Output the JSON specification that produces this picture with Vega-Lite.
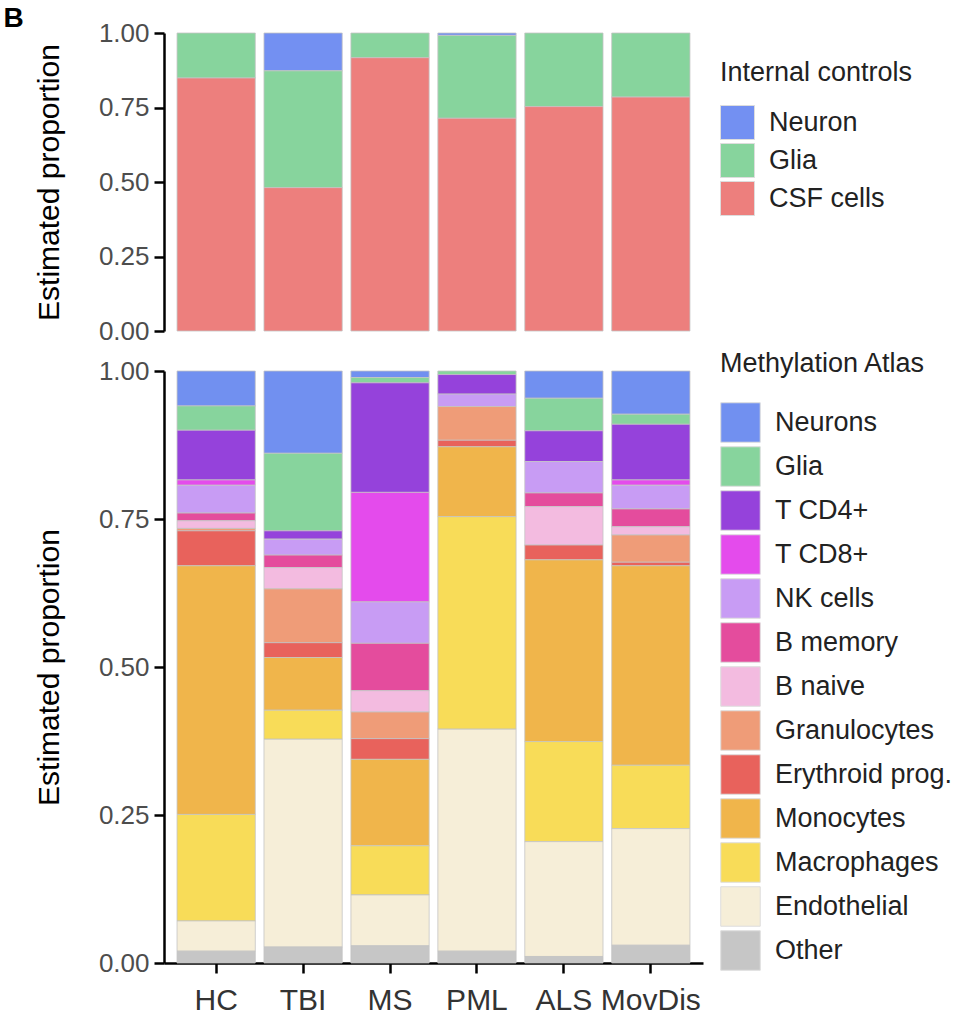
{
  "$schema": "https://vega.github.io/schema/vega-lite/v6.json",
  "background": "white",
  "padding": {"left": 3, "top": 5, "right": 0, "bottom": 0},
  "title": {
    "text": "B",
    "anchor": "start",
    "frame": "bounds",
    "font": "Liberation Sans",
    "fontSize": 28,
    "fontWeight": "bold",
    "color": "black",
    "dx": -31,
    "offset": -13
  },
  "config": {
    "font": "Liberation Sans",
    "view": {"stroke": null},
    "axis": {
      "grid": false,
      "domainColor": "black",
      "domainWidth": 2.5,
      "tickColor": "black",
      "tickWidth": 2.5,
      "tickSize": 10,
      "labelFont": "Liberation Sans",
      "titleFont": "Liberation Sans"
    },
    "axisY": {
      "labelFontSize": 26,
      "labelColor": "#4d4d4d",
      "labelPadding": 5,
      "titleFontSize": 30,
      "titleFontWeight": "normal",
      "titleColor": "black",
      "titlePadding": 34
    },
    "axisX": {
      "labelFontSize": 30,
      "labelColor": "#333333",
      "labelAngle": 0,
      "labelPadding": 12
    },
    "legend": {
      "labelFont": "Liberation Sans",
      "titleFont": "Liberation Sans",
      "titleFontSize": 27,
      "titleFontWeight": "normal",
      "titleColor": "#222222",
      "titleLimit": 400,
      "labelFontSize": 27,
      "labelColor": "#222222",
      "labelLimit": 400,
      "symbolType": "square",
      "symbolStrokeColor": "#dddddd",
      "symbolStrokeWidth": 1,
      "symbolOpacity": 1,
      "labelOffset": 14
    }
  },
  "datasets": {
    "controls": [
      {"group": "HC", "cell": "Glia", "proportion": 0.151},
      {"group": "HC", "cell": "CSF cells", "proportion": 0.849},
      {"group": "TBI", "cell": "Neuron", "proportion": 0.127},
      {"group": "TBI", "cell": "Glia", "proportion": 0.392},
      {"group": "TBI", "cell": "CSF cells", "proportion": 0.481},
      {"group": "MS", "cell": "Glia", "proportion": 0.083},
      {"group": "MS", "cell": "CSF cells", "proportion": 0.917},
      {"group": "PML", "cell": "Neuron", "proportion": 0.008},
      {"group": "PML", "cell": "Glia", "proportion": 0.278},
      {"group": "PML", "cell": "CSF cells", "proportion": 0.714},
      {"group": "ALS", "cell": "Glia", "proportion": 0.247},
      {"group": "ALS", "cell": "CSF cells", "proportion": 0.753},
      {"group": "MovDis", "cell": "Glia", "proportion": 0.215},
      {"group": "MovDis", "cell": "CSF cells", "proportion": 0.785}
    ],
    "atlas": [
      {"group": "HC", "cell": "Neurons", "proportion": 0.059},
      {"group": "HC", "cell": "Glia", "proportion": 0.041},
      {"group": "HC", "cell": "T CD4+", "proportion": 0.084},
      {"group": "HC", "cell": "T CD8+", "proportion": 0.009},
      {"group": "HC", "cell": "NK cells", "proportion": 0.047},
      {"group": "HC", "cell": "B memory", "proportion": 0.013},
      {"group": "HC", "cell": "B naive", "proportion": 0.013},
      {"group": "HC", "cell": "Granulocytes", "proportion": 0.004},
      {"group": "HC", "cell": "Erythroid prog.", "proportion": 0.059},
      {"group": "HC", "cell": "Monocytes", "proportion": 0.420},
      {"group": "HC", "cell": "Macrophages", "proportion": 0.180},
      {"group": "HC", "cell": "Endothelial", "proportion": 0.051},
      {"group": "HC", "cell": "Other", "proportion": 0.020},
      {"group": "TBI", "cell": "Neurons", "proportion": 0.139},
      {"group": "TBI", "cell": "Glia", "proportion": 0.131},
      {"group": "TBI", "cell": "T CD4+", "proportion": 0.014},
      {"group": "TBI", "cell": "NK cells", "proportion": 0.027},
      {"group": "TBI", "cell": "B memory", "proportion": 0.021},
      {"group": "TBI", "cell": "B naive", "proportion": 0.036},
      {"group": "TBI", "cell": "Granulocytes", "proportion": 0.091},
      {"group": "TBI", "cell": "Erythroid prog.", "proportion": 0.025},
      {"group": "TBI", "cell": "Monocytes", "proportion": 0.089},
      {"group": "TBI", "cell": "Macrophages", "proportion": 0.049},
      {"group": "TBI", "cell": "Endothelial", "proportion": 0.351},
      {"group": "TBI", "cell": "Other", "proportion": 0.027},
      {"group": "MS", "cell": "Neurons", "proportion": 0.011},
      {"group": "MS", "cell": "Glia", "proportion": 0.009},
      {"group": "MS", "cell": "T CD4+", "proportion": 0.185},
      {"group": "MS", "cell": "T CD8+", "proportion": 0.185},
      {"group": "MS", "cell": "NK cells", "proportion": 0.070},
      {"group": "MS", "cell": "B memory", "proportion": 0.080},
      {"group": "MS", "cell": "B naive", "proportion": 0.036},
      {"group": "MS", "cell": "Granulocytes", "proportion": 0.045},
      {"group": "MS", "cell": "Erythroid prog.", "proportion": 0.035},
      {"group": "MS", "cell": "Monocytes", "proportion": 0.146},
      {"group": "MS", "cell": "Macrophages", "proportion": 0.083},
      {"group": "MS", "cell": "Endothelial", "proportion": 0.086},
      {"group": "MS", "cell": "Other", "proportion": 0.029},
      {"group": "PML", "cell": "Glia", "proportion": 0.006},
      {"group": "PML", "cell": "T CD4+", "proportion": 0.033},
      {"group": "PML", "cell": "NK cells", "proportion": 0.021},
      {"group": "PML", "cell": "Granulocytes", "proportion": 0.057},
      {"group": "PML", "cell": "Erythroid prog.", "proportion": 0.011},
      {"group": "PML", "cell": "Monocytes", "proportion": 0.118},
      {"group": "PML", "cell": "Macrophages", "proportion": 0.359},
      {"group": "PML", "cell": "Endothelial", "proportion": 0.375},
      {"group": "PML", "cell": "Other", "proportion": 0.020},
      {"group": "ALS", "cell": "Neurons", "proportion": 0.046},
      {"group": "ALS", "cell": "Glia", "proportion": 0.055},
      {"group": "ALS", "cell": "T CD4+", "proportion": 0.052},
      {"group": "ALS", "cell": "NK cells", "proportion": 0.053},
      {"group": "ALS", "cell": "B memory", "proportion": 0.023},
      {"group": "ALS", "cell": "B naive", "proportion": 0.065},
      {"group": "ALS", "cell": "Erythroid prog.", "proportion": 0.025},
      {"group": "ALS", "cell": "Monocytes", "proportion": 0.307},
      {"group": "ALS", "cell": "Macrophages", "proportion": 0.169},
      {"group": "ALS", "cell": "Endothelial", "proportion": 0.194},
      {"group": "ALS", "cell": "Other", "proportion": 0.011},
      {"group": "MovDis", "cell": "Neurons", "proportion": 0.073},
      {"group": "MovDis", "cell": "Glia", "proportion": 0.017},
      {"group": "MovDis", "cell": "T CD4+", "proportion": 0.094},
      {"group": "MovDis", "cell": "T CD8+", "proportion": 0.009},
      {"group": "MovDis", "cell": "NK cells", "proportion": 0.040},
      {"group": "MovDis", "cell": "B memory", "proportion": 0.030},
      {"group": "MovDis", "cell": "B naive", "proportion": 0.014},
      {"group": "MovDis", "cell": "Granulocytes", "proportion": 0.046},
      {"group": "MovDis", "cell": "Erythroid prog.", "proportion": 0.006},
      {"group": "MovDis", "cell": "Monocytes", "proportion": 0.337},
      {"group": "MovDis", "cell": "Macrophages", "proportion": 0.107},
      {"group": "MovDis", "cell": "Endothelial", "proportion": 0.197},
      {"group": "MovDis", "cell": "Other", "proportion": 0.030}
    ]
  },
  "spacing": 7,
  "resolve": {"scale": {"color": "independent"}, "legend": {"color": "independent"}},
  "vconcat": [
    {
      "width": 539,
      "height": 298,
      "data": {"name": "controls"},
      "transform": [
        {"calculate": "indexof(['Neuron', 'Glia', 'CSF cells'], datum.cell)", "as": "stack_rank"}
      ],
      "mark": {"type": "bar", "stroke": "#c4c4c4", "strokeWidth": 0.8},
      "encoding": {
        "x": {
          "field": "group",
          "type": "nominal",
          "sort": ["HC", "TBI", "MS", "PML", "ALS", "MovDis"],
          "scale": {"paddingInner": 0.1, "paddingOuter": 0.15},
          "axis": null
        },
        "y": {
          "field": "proportion",
          "type": "quantitative",
          "stack": "zero",
          "scale": {"domain": [0, 1], "nice": false},
          "axis": {"title": "Estimated proportion", "values": [0, 0.25, 0.5, 0.75, 1], "format": ".2f"}
        },
        "order": {"field": "stack_rank", "type": "quantitative", "sort": "descending"},
        "color": {
          "field": "cell",
          "type": "nominal",
          "sort": ["Neuron", "Glia", "CSF cells"],
          "scale": {
            "domain": ["Neuron", "Glia", "CSF cells"],
            "range": ["#7390f2", "#87d49d", "#ed7f7d"]
          },
          "legend": {
            "title": "Internal controls",
            "orient": "none",
            "legendX": 556,
            "legendY": 27,
            "symbolSize": 1156,
            "rowPadding": -1,
            "titlePadding": 18
          }
        }
      }
    },
    {
      "width": 539,
      "height": 592,
      "data": {"name": "atlas"},
      "transform": [
        {"calculate": "indexof(['Neurons', 'Glia', 'T CD4+', 'T CD8+', 'NK cells', 'B memory', 'B naive', 'Granulocytes', 'Erythroid prog.', 'Monocytes', 'Macrophages', 'Endothelial', 'Other'], datum.cell)", "as": "stack_rank"}
      ],
      "mark": {"type": "bar", "stroke": "#c4c4c4", "strokeWidth": 0.8},
      "encoding": {
        "x": {
          "field": "group",
          "type": "nominal",
          "sort": ["HC", "TBI", "MS", "PML", "ALS", "MovDis"],
          "scale": {"paddingInner": 0.1, "paddingOuter": 0.15},
          "axis": {"title": null}
        },
        "y": {
          "field": "proportion",
          "type": "quantitative",
          "stack": "zero",
          "scale": {"domain": [0, 1], "nice": false},
          "axis": {"title": "Estimated proportion", "values": [0, 0.25, 0.5, 0.75, 1], "format": ".2f"}
        },
        "order": {"field": "stack_rank", "type": "quantitative", "sort": "descending"},
        "color": {
          "field": "cell",
          "type": "nominal",
          "sort": ["Neurons", "Glia", "T CD4+", "T CD8+", "NK cells", "B memory", "B naive", "Granulocytes", "Erythroid prog.", "Monocytes", "Macrophages", "Endothelial", "Other"],
          "scale": {
            "domain": ["Neurons", "Glia", "T CD4+", "T CD8+", "NK cells", "B memory", "B naive", "Granulocytes", "Erythroid prog.", "Monocytes", "Macrophages", "Endothelial", "Other"],
            "range": ["#7190f0", "#87d49d", "#9542db", "#e44bec", "#c89cf4", "#e44c9d", "#f3bbe0", "#ef9c78", "#e8625c", "#f0b54b", "#f8dc58", "#f6eed8", "#c6c6c6"]
          },
          "legend": {
            "title": "Methylation Atlas",
            "orient": "none",
            "legendX": 556,
            "legendY": -20,
            "symbolSize": 1560,
            "rowPadding": -1,
            "titlePadding": 24
          }
        }
      }
    }
  ]
}
